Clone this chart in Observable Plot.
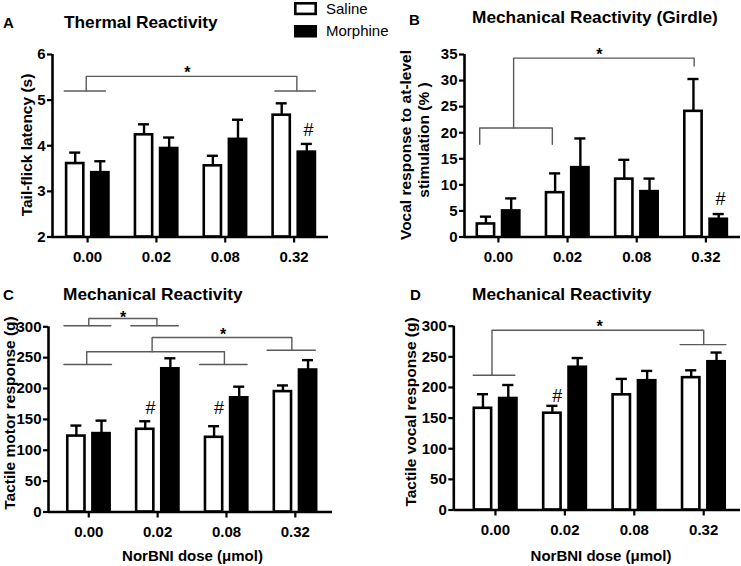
<!DOCTYPE html>
<html>
<head>
<meta charset="utf-8">
<script src="https://cdn.jsdelivr.net/npm/d3@7"></script>
<script src="https://cdn.jsdelivr.net/npm/@observablehq/plot@0.6"></script>
<style>
  html, body { margin: 0; padding: 0; background: #fff; }
  #wrap { position: relative; width: 741px; height: 566px; background: #fff; overflow: hidden; }
  #wrap svg { position: absolute; }
</style>
</head>
<body>
<div id="wrap"></div>
<script>
// ---------- data ----------
const doses = ["0.00", "0.02", "0.08", "0.32"];
const groups = ["Saline", "Morphine"];

// Panel A: Thermal Reactivity, tail-flick latency (s)
const aSaline = [3.61, 4.24, 3.56, 4.67];
const aSalineSem = [0.24, 0.23, 0.22, 0.26];
const aMorphine = [3.41, 3.94, 4.14, 3.86];
const aMorphineSem = [0.25, 0.24, 0.43, 0.18];

// Panel B: Mechanical Reactivity (Girdle), vocal response (%)
const bSaline = [2.5, 8.5, 11.1, 24.1];
const bSalineSem = [1.4, 3.7, 3.7, 6.2];
const bMorphine = [5.0, 13.3, 8.7, 3.4];
const bMorphineSem = [2.4, 5.6, 2.5, 1.0];

// Panel C: Mechanical Reactivity, tactile motor response (g)
const cSaline = [123, 134, 121, 195];
const cSalineSem = [17, 13, 18, 10];
const cMorphine = [127, 232, 185, 230];
const cMorphineSem = [21, 17, 18, 16];

// Panel D: Mechanical Reactivity, tactile vocal response (g)
const dSaline = [166, 158, 188, 216];
const dSalineSem = [23, 12, 26, 12];
const dMorphine = [182, 233, 211, 242];
const dMorphineSem = [22, 15, 16, 15];

// significance brackets, as [dose index, value] points
const aBrackets = [
  [[-0.34, 5.2], [0.26, 5.2]],
  [[-0.02, 5.2], [-0.02, 5.52], [3.04, 5.52], [3.04, 5.2]],
  [[2.72, 5.2], [3.31, 5.2]]
];
const bBrackets = [
  [[-0.27, 17.8], [-0.27, 20.9], [0.78, 20.9], [0.78, 17.8]],
  [[0.22, 20.9], [0.22, 34.3], [2.83, 34.3], [2.83, 32.8]]
];
const cBrackets = [
  [[-0.36, 301.6], [0.32, 301.6]],
  [[0.0, 301.6], [0.0, 313.5], [0.99, 313.5], [0.99, 301.6]],
  [[0.61, 301.6], [1.30, 301.6]],
  [[-0.36, 239], [0.33, 239]],
  [[-0.03, 239], [-0.03, 259.5], [1.97, 259.5], [1.97, 239]],
  [[1.61, 239], [2.30, 239]],
  [[0.92, 259.5], [0.92, 282.7], [2.95, 282.7], [2.95, 262]],
  [[2.59, 262], [3.29, 262]]
];
const dBrackets = [
  [[-0.32, 220], [0.28, 220]],
  [[-0.05, 220], [-0.05, 293.5], [3.0, 293.5], [3.0, 270]],
  [[2.66, 270], [3.32, 270]]
];

// annotation symbols: [dose index, value, symbol]
const aMarks = [[3.21, 4.33, "#"], [1.45, 5.60, "*"]];
const bMarks = [[3.21, 7.3, "#"], [1.46, 35.0, "*"]];
const cMarks = [[0.895, 168, "#"], [1.89, 168, "#"], [0.5, 314.8, "*"], [1.95, 287.7, "*"]];
const dMarks = [[0.89, 185.7, "#"], [1.5, 298.7, "*"]];

// ---------- drawing ----------
const FONT = "'Liberation Sans', Arial, Helvetica, sans-serif";
const wrap = document.getElementById("wrap");

function table(sal, salSem, mor, morSem) {
  const rows = [];
  doses.forEach((d, i) => {
    rows.push({i, group: "Saline", mean: sal[i], sem: salSem[i]});
    rows.push({i, group: "Morphine", mean: mor[i], sem: morSem[i]});
  });
  return rows;
}

function panel(cfg) {
  const rows = table(...cfg.values);
  const base = cfg.yDomain[0];
  const off = (d) => d.group === "Saline" ? -0.18 : 0.185;
  const half = 0.125;
  const cx = (d) => d.i + off(d);
  const br = cfg.brackets.flatMap((path, k) => path.map(([x, y]) => ({x, y, k})));
  const marks = cfg.marks.map(([x, y, s]) => ({x, y, s}));
  const svg = Plot.plot({
    width: cfg.width,
    height: cfg.height,
    marginLeft: cfg.ml, marginRight: cfg.mr, marginTop: cfg.mt, marginBottom: cfg.mb,
    x: {type: "linear", domain: cfg.xDomain},
    y: {type: "linear", domain: cfg.yDomain},
    color: {domain: groups, range: ["#ffffff", "#000000"]},
    style: {fontFamily: FONT, background: "transparent", overflow: "visible", color: "#000"},
    marks: [
      Plot.line(br, {x: "x", y: "y", z: "k", stroke: "#5a5a5a", strokeWidth: 1.4, curve: "linear"}),
      Plot.ruleX(rows, {x: cx, y1: "mean", y2: (d) => d.mean + d.sem, stroke: "#000", strokeWidth: 2.4}),
      Plot.ruleY(rows, {y: (d) => d.mean + d.sem, x1: (d) => cx(d) - 0.08, x2: (d) => cx(d) + 0.08, stroke: "#000", strokeWidth: 2.4}),
      Plot.rect(rows, {x1: (d) => cx(d) - half, x2: (d) => cx(d) + half, y1: base, y2: "mean", fill: "group", stroke: "#000", strokeWidth: 2.6}),
      Plot.text(marks.filter(m => m.s === "#"), {x: "x", y: "y", text: "s", fontSize: 18, fill: "#000"}),
      Plot.text(marks.filter(m => m.s === "*"), {x: "x", y: "y", text: "s", fontSize: 16, fontWeight: "bold", fill: "#000"}),
      Plot.ruleY([base], {stroke: "#000", strokeWidth: 2.6}),
      Plot.ruleX([cfg.xDomain[0]], {stroke: "#000", strokeWidth: 2.6}),
      Plot.axisY({ticks: cfg.yTicks, tickFormat: (v) => String(v), tickSize: 5, tickPadding: 2, strokeWidth: 2.2, fontSize: 15, fontWeight: "bold", fill: "#000", label: null}),
      Plot.axisX({ticks: [0, 1, 2, 3], tickFormat: (i) => doses[i], tickSize: 6, tickPadding: 8, strokeWidth: 2.2, fontSize: 15, fontWeight: "bold", fill: "#000", label: null})
    ]
  });
  svg.style.left = cfg.left + "px";
  svg.style.top = cfg.top + "px";
  wrap.appendChild(svg);
}

panel({left: 0, top: 0, width: 370, height: 283, ml: 52, mr: 42, mt: 54, mb: 46.5,
  xDomain: [-0.51, 3.5], yDomain: [2, 6], yTicks: [2, 3, 4, 5, 6],
  values: [aSaline, aSalineSem, aMorphine, aMorphineSem], brackets: aBrackets, marks: aMarks});
panel({left: 370, top: 0, width: 371, height: 283, ml: 94, mr: 1, mt: 54, mb: 46.5,
  xDomain: [-0.49, 3.5], yDomain: [0, 35], yTicks: [0, 5, 10, 15, 20, 25, 30, 35],
  values: [bSaline, bSalineSem, bMorphine, bMorphineSem], brackets: bBrackets, marks: bMarks});
panel({left: 0, top: 283, width: 370, height: 283, ml: 48, mr: 38, mt: 43.3, mb: 54.5,
  xDomain: [-0.585, 3.54], yDomain: [0, 300], yTicks: [0, 50, 100, 150, 200, 250, 300],
  values: [cSaline, cSalineSem, cMorphine, cMorphineSem], brackets: cBrackets, marks: cMarks});
panel({left: 370, top: 283, width: 371, height: 283, ml: 83.3, mr: 1, mt: 42.7, mb: 56.5,
  xDomain: [-0.6, 3.53], yDomain: [0, 300], yTicks: [0, 50, 100, 150, 200, 250, 300],
  values: [dSaline, dSalineSem, dMorphine, dMorphineSem], brackets: dBrackets, marks: dMarks});

// ---------- titles, labels, legend ----------
const ov = d3.select(wrap).append("svg")
  .attr("width", 741).attr("height", 566)
  .style("left", "0px").style("top", "0px")
  .style("pointer-events", "none")
  .style("font-family", FONT);

const texts = [
  {t: "A", x: 3, y: 28, size: 15, w: "bold"},
  {t: "Thermal Reactivity", x: 64, y: 28, size: 17.3, w: "bold"},
  {t: "B", x: 409, y: 25, size: 15, w: "bold"},
  {t: "Mechanical Reactivity (Girdle)", x: 472, y: 23, size: 17.3, w: "bold"},
  {t: "C", x: 3, y: 300, size: 15, w: "bold"},
  {t: "Mechanical Reactivity", x: 63, y: 299.5, size: 17.3, w: "bold"},
  {t: "D", x: 410, y: 300, size: 15, w: "bold"},
  {t: "Mechanical Reactivity", x: 472, y: 299.5, size: 17.3, w: "bold"},
  {t: "Saline", x: 326, y: 14, size: 15, w: "normal"},
  {t: "Morphine", x: 326, y: 36, size: 15, w: "normal"},
  {t: "NorBNI dose (\u03bcmol)", x: 192.5, y: 561, size: 15, w: "bold", anchor: "middle"},
  {t: "NorBNI dose (\u03bcmol)", x: 601, y: 561, size: 15, w: "bold", anchor: "middle"}
];
ov.selectAll("text.t").data(texts).join("text").attr("class", "t")
  .attr("x", d => d.x).attr("y", d => d.y)
  .attr("font-size", d => d.size).attr("font-weight", d => d.w)
  .attr("text-anchor", d => d.anchor || "start").attr("fill", "#000")
  .text(d => d.t);

const yTitles = [
  {t: "Tail-flick latency (s)", x: 32, y: 145},
  {t: "Vocal response to at-level", x: 411, y: 145},
  {t: "stimulation (% )", x: 429, y: 140},
  {t: "Tactile motor response (g)", x: 14.5, y: 413},
  {t: "Tactile vocal response (g)", x: 416, y: 412}
];
ov.selectAll("text.yt").data(yTitles).join("text").attr("class", "yt")
  .attr("transform", d => `translate(${d.x},${d.y}) rotate(-90)`)
  .attr("text-anchor", "middle").attr("font-size", 15.5).attr("font-weight", "bold").attr("fill", "#000")
  .text(d => d.t);

// legend swatches
ov.append("rect").attr("x", 295.3).attr("y", 3.3).attr("width", 20.4).attr("height", 10.6)
  .attr("fill", "#fff").attr("stroke", "#000").attr("stroke-width", 2.6);
ov.append("rect").attr("x", 294).attr("y", 25).attr("width", 23).attr("height", 12.5).attr("fill", "#000");
</script>
</body>
</html>
